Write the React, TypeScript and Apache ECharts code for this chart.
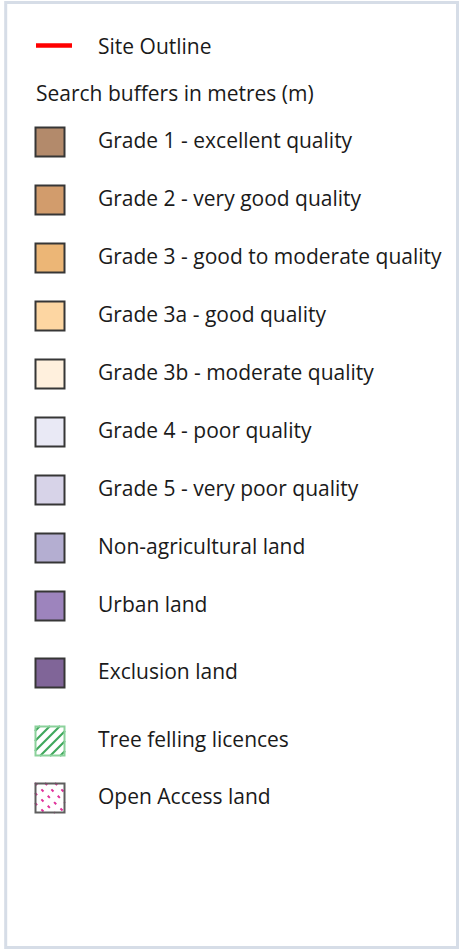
import { useEffect, useRef } from "react";
import * as echarts from "echarts";

const outlineLabel = "Site Outline";
const bufferLabel = "Search buffers in metres (m)";
const gradeLabels = [
  "Grade 1 - excellent quality",
  "Grade 2 - very good quality",
  "Grade 3 - good to moderate quality",
  "Grade 3a - good quality",
  "Grade 3b - moderate quality",
  "Grade 4 - poor quality",
  "Grade 5 - very poor quality",
  "Non-agricultural land",
  "Urban land",
  "Exclusion land",
];
const gradeColors = [
  "#b38a6b",
  "#d29c6c",
  "#ecb676",
  "#fdd6a2",
  "#fff0dd",
  "#e9e9f5",
  "#d7d3e8",
  "#b4aed1",
  "#9d84bd",
  "#806598",
];
const patternLabels = ["Tree felling licences", "Open Access land"];

// layout (pixels)
const rowCenters = [142, 200, 258, 316, 374, 432, 490, 548, 606, 673, 741, 798];
const SW_X = 35;
const SW = 30;
const TEXT_X = 98;
const FONT = '21px "Open Sans", sans-serif';
const TEXT_COLOR = "#1a1a1a";

function buildGraphics() {
  const els: any[] = [];
  els.push({
    type: "rect",
    shape: { x: 5.7, y: 2.6, width: 451.8, height: 945 },
    style: { fill: "#ffffff", stroke: "#d6dde7", lineWidth: 3 },
  });
  els.push({
    type: "line",
    shape: { x1: 36, y1: 45.5, x2: 72, y2: 45.5 },
    style: { stroke: "#ff0000", lineWidth: 4.5 },
  });
  els.push({
    type: "text",
    x: TEXT_X,
    y: 46,
    style: { text: outlineLabel, font: FONT, fill: TEXT_COLOR, verticalAlign: "middle" },
  });
  els.push({
    type: "text",
    x: 36,
    y: 93,
    style: { text: bufferLabel, font: FONT, fill: TEXT_COLOR, verticalAlign: "middle" },
  });
  gradeLabels.forEach((label, i) => {
    const cy = rowCenters[i];
    els.push({
      type: "rect",
      shape: { x: SW_X + 0.5, y: cy - 14.5, width: SW - 1, height: SW - 1 },
      style: { fill: gradeColors[i], stroke: "#363636", lineWidth: 2 },
    });
    els.push({
      type: "text",
      x: TEXT_X,
      y: cy - 2,
      style: { text: label, font: FONT, fill: TEXT_COLOR, verticalAlign: "middle" },
    });
  });
  // Tree felling licences: green hatch
  {
    const cy = rowCenters[10];
    const x0 = SW_X;
    const y0 = cy - 15;
    for (let s = 5; s < 60; s += 10) {
      let a, b;
      if (s <= 30) {
        a = [0, s];
        b = [s, 0];
      } else {
        a = [s - 30, 30];
        b = [30, s - 30];
      }
      els.push({
        type: "line",
        shape: { x1: x0 + a[0], y1: y0 + a[1], x2: x0 + b[0], y2: y0 + b[1] },
        style: { stroke: "#3fa75c", lineWidth: 2.2 },
      });
    }
    els.push({
      type: "rect",
      shape: { x: SW_X + 0.5, y: cy - 14.5, width: SW - 1, height: SW - 1 },
      style: { fill: "none", stroke: "#8cd29c", lineWidth: 2 },
    });
    els.push({
      type: "text",
      x: TEXT_X,
      y: cy - 2,
      style: { text: patternLabels[0], font: FONT, fill: TEXT_COLOR, verticalAlign: "middle" },
    });
  }
  // Open Access land: magenta dashed diagonals
  {
    const cy = rowCenters[11];
    const x0 = SW_X;
    const y0 = cy - 15;
    for (let d = -20; d <= 20; d += 10) {
      let a, b;
      if (d >= 0) {
        a = [d, 0];
        b = [30, 30 - d];
      } else {
        a = [0, -d];
        b = [30 + d, 30];
      }
      els.push({
        type: "line",
        shape: { x1: x0 + a[0], y1: y0 + a[1], x2: x0 + b[0], y2: y0 + b[1] },
        style: { stroke: "#e0309a", lineWidth: 2, lineDash: [3, 6] },
      });
    }
    els.push({
      type: "rect",
      shape: { x: SW_X + 0.5, y: cy - 14.5, width: SW - 1, height: SW - 1 },
      style: { fill: "none", stroke: "#5e5e5e", lineWidth: 2 },
    });
    els.push({
      type: "text",
      x: TEXT_X,
      y: cy - 2,
      style: { text: patternLabels[1], font: FONT, fill: TEXT_COLOR, verticalAlign: "middle" },
    });
  }
  return els;
}

export default function App() {
  const ref = useRef<HTMLDivElement>(null);
  useEffect(() => {
    if (!ref.current) return;
    const chart = echarts.init(ref.current, null, { renderer: "svg" });
    chart.setOption({
      animation: false,
      backgroundColor: "#ffffff",
      graphic: { elements: buildGraphics() },
    });
    return () => chart.dispose();
  }, []);
  return (
    <div
      ref={ref}
      style={{ position: "absolute", left: 0, top: 0, width: 466, height: 949 }}
    />
  );
}
